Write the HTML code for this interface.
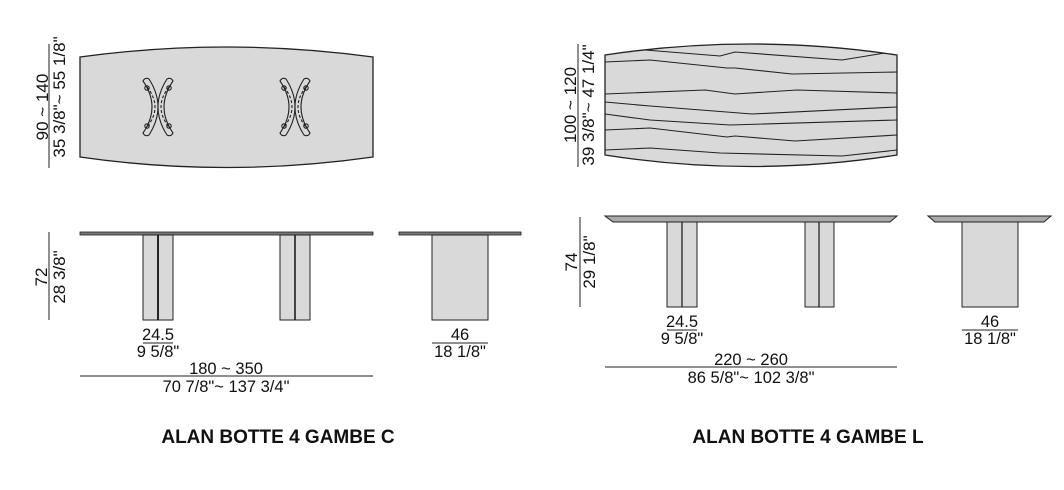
<!DOCTYPE html>
<html><head><style>body{margin:0;background:#fff}svg{display:block}</style></head><body>
<svg width="1064" height="490" viewBox="0 0 1064 490" xmlns="http://www.w3.org/2000/svg" font-family="Liberation Sans, sans-serif" font-size="16.5" fill="#111">
<defs>
<g id="cres" fill="none" stroke="#222" stroke-width="1.1">
<path d="M-15,-26 Q-13,-30 -9,-28 Q9,0 -9,28 Q-13,30 -15,26 Q3,0 -15,-26 Z"/>
<path d="M15,-26 Q13,-30 9,-28 Q-9,0 9,28 Q13,30 15,26 Q-3,0 15,-26 Z"/>
<path d="M-11,-20 Q5,0 -11,20 M11,-20 Q-5,0 11,20" stroke-dasharray="3,2"/>
<circle cx="-11" cy="-19" r="2.2"/><circle cx="11" cy="-19" r="2.2"/>
<circle cx="-11" cy="19" r="2.2"/><circle cx="11" cy="19" r="2.2"/>
</g>
</defs>
<!-- LEFT TOP VIEW -->
<path d="M80,57 Q226,37 373,57 L373,157 Q226,178 80,157 Z" fill="#d9d9d9" stroke="#222" stroke-width="1.3"/>
<use href="#cres" x="158" y="107"/>
<use href="#cres" x="295" y="107"/>
<line x1="49" y1="44" x2="49" y2="168" stroke="#222"/>
<text transform="translate(48,107) rotate(-90)" text-anchor="middle" font-size="17">90 ~ 140</text>
<text transform="translate(65,97) rotate(-90)" text-anchor="middle" font-size="17">35 3/8"~ 55 1/8"</text>
<!-- LEFT FRONT -->
<rect x="80" y="232" width="293" height="3" fill="#777" stroke="#222" stroke-width="0.8"/>
<rect x="143" y="235" width="30" height="85" fill="#d9d9d9" stroke="#222"/>
<line x1="158" y1="235" x2="158" y2="320" stroke="#111" stroke-width="1.8"/>
<rect x="280" y="235" width="30" height="85" fill="#d9d9d9" stroke="#222"/>
<line x1="295" y1="235" x2="295" y2="320" stroke="#111" stroke-width="1.5"/>
<rect x="399" y="232" width="122" height="3" fill="#777" stroke="#222" stroke-width="0.8"/>
<rect x="432" y="235" width="56" height="85" fill="#d9d9d9" stroke="#222"/>
<line x1="49" y1="232" x2="49" y2="320" stroke="#222"/>
<text transform="translate(47,277) rotate(-90)" text-anchor="middle" font-size="17">72</text>
<text transform="translate(65,277) rotate(-90)" text-anchor="middle" font-size="17">28 3/8"</text>
<text x="158" y="340" text-anchor="middle">24.5</text>
<line x1="143" y1="343" x2="173" y2="343" stroke="#222"/>
<text x="158" y="357" text-anchor="middle">9 5/8"</text>
<text x="226" y="374" text-anchor="middle">180 ~ 350</text>
<line x1="80" y1="376" x2="373" y2="376" stroke="#222"/>
<text x="226" y="392" text-anchor="middle">70 7/8"~ 137 3/4"</text>
<text x="460" y="340" text-anchor="middle">46</text>
<line x1="432" y1="343" x2="488" y2="343" stroke="#222"/>
<text x="460" y="357" text-anchor="middle">18 1/8"</text>
<!-- RIGHT TOP VIEW -->
<path d="M605,55 Q751,33 897,55 L897,155 Q751,178 605,155 Z" fill="#d9d9d9" stroke="#222" stroke-width="1.3"/>
<g fill="none" stroke="#222" stroke-width="1.1">
<path d="M645,50 L720,56 L735,52 L842,60 L885,53"/>
<path d="M605,62 L650,60 L727,68 L735,68 L792,74 L897,72"/>
<path d="M605,94 L705,90 L735,94 L797,90 L897,93"/>
<path d="M605,102 L650,106 L752,114 L897,107"/>
<path d="M605,114 L650,120 L730,125 L897,120"/>
<path d="M605,130 L650,128 L727,137 L735,136 L795,141 L897,135"/>
<path d="M605,150 L650,148 L720,153 L842,156 L897,150"/>
</g>
<line x1="578" y1="44" x2="578" y2="167" stroke="#222"/>
<text transform="translate(576,105) rotate(-90)" text-anchor="middle" font-size="17">100 ~ 120</text>
<text transform="translate(594,105) rotate(-90)" text-anchor="middle" font-size="17">39 3/8"~ 47 1/4"</text>
<!-- RIGHT FRONT -->
<path d="M605,216 L897,216 L890,222 L613,222 Z" fill="#aaa" stroke="#222"/>
<rect x="667" y="222" width="30" height="85" fill="#d9d9d9" stroke="#222"/>
<line x1="682" y1="222" x2="682" y2="307" stroke="#222" stroke-width="1.3"/>
<rect x="805" y="222" width="29" height="85" fill="#d9d9d9" stroke="#222"/>
<line x1="819" y1="222" x2="819" y2="307" stroke="#222" stroke-width="1.3"/>
<path d="M928,216 L1051,216 L1044,222 L935,222 Z" fill="#aaa" stroke="#222"/>
<rect x="962" y="222" width="56" height="85" fill="#d9d9d9" stroke="#222"/>
<line x1="580" y1="217" x2="580" y2="307" stroke="#222"/>
<text transform="translate(577,262) rotate(-90)" text-anchor="middle" font-size="17">74</text>
<text transform="translate(595,262) rotate(-90)" text-anchor="middle" font-size="17">29 1/8"</text>
<text x="682" y="327" text-anchor="middle">24.5</text>
<line x1="667" y1="330" x2="697" y2="330" stroke="#222"/>
<text x="682" y="344" text-anchor="middle">9 5/8"</text>
<text x="751" y="365" text-anchor="middle">220 ~ 260</text>
<line x1="605" y1="367" x2="897" y2="367" stroke="#222"/>
<text x="751" y="383" text-anchor="middle">86 5/8"~ 102 3/8"</text>
<text x="990" y="327" text-anchor="middle">46</text>
<line x1="962" y1="330" x2="1018" y2="330" stroke="#222"/>
<text x="990" y="344" text-anchor="middle">18 1/8"</text>
<text x="278" y="443" text-anchor="middle" font-weight="bold" font-size="19">ALAN BOTTE 4 GAMBE C</text>
<text x="808" y="443" text-anchor="middle" font-weight="bold" font-size="19">ALAN BOTTE 4 GAMBE L</text>
</svg>
</body></html>
